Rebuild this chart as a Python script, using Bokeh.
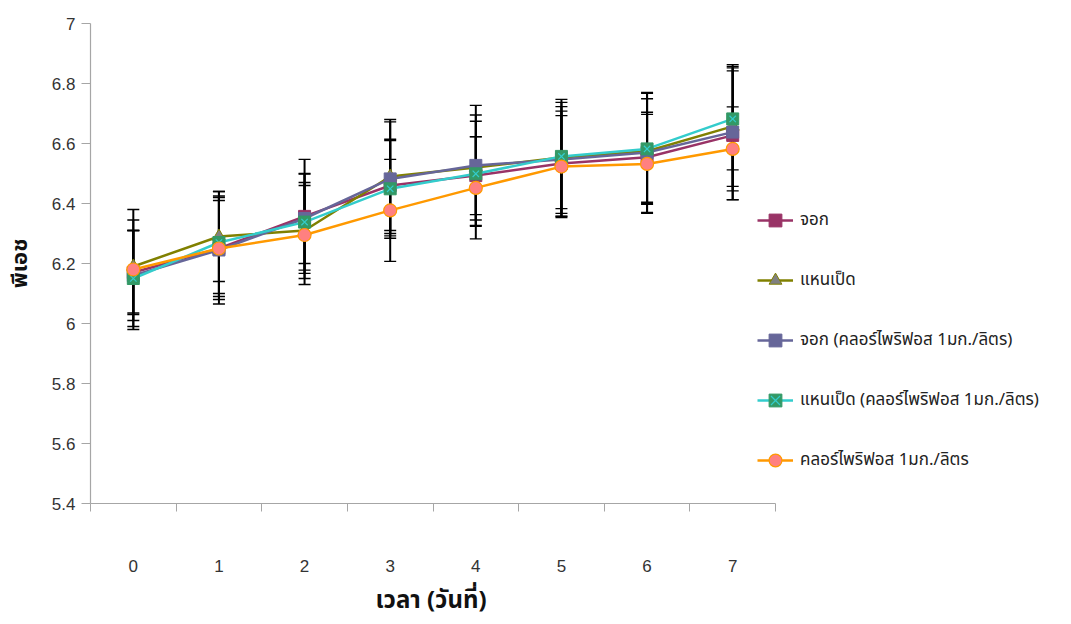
from bokeh.plotting import figure
from bokeh.models import (ColumnDataSource, Range1d, FixedTicker, Whisker, TeeHead,
                          Legend, LegendItem, Title)
from bokeh.embed import file_html
from bokeh.resources import INLINE

days = [0, 1, 2, 3, 4, 5, 6, 7]
day_labels = ["0", "1", "2", "3", "4", "5", "6", "7"]

names = ["จอก", "แหนเป็ด", "จอก (คลอร์ไพริฟอส 1มก./ลิตร)",
         "แหนเป็ด (คลอร์ไพริฟอส 1มก./ลิตร)", "คลอร์ไพริฟอส 1มก./ลิตร"]

jok = [6.17, 6.25, 6.357, 6.46, 6.493, 6.533, 6.554, 6.627]
jok_err = [0.14, 0.16, 0.19, 0.15, 0.13, 0.175, 0.15, 0.215]

haen = [6.19, 6.29, 6.31, 6.49, 6.52, 6.553, 6.574, 6.657]
haen_err = [0.155, 0.15, 0.16, 0.19, 0.175, 0.17, 0.175, 0.2]

jok_c = [6.16, 6.245, 6.35, 6.482, 6.527, 6.547, 6.57, 6.638]
jok_c_err = [0.15, 0.18, 0.15, 0.19, 0.2, 0.19, 0.2, 0.225]

haen_c = [6.15, 6.27, 6.338, 6.449, 6.499, 6.557, 6.582, 6.682]
haen_c_err = [0.16, 0.17, 0.16, 0.165, 0.175, 0.19, 0.185, 0.17]

chlor = [6.18, 6.25, 6.295, 6.377, 6.452, 6.523, 6.532, 6.582]
chlor_err = [0.2, 0.17, 0.165, 0.17, 0.17, 0.17, 0.165, 0.14]

y_ticks = [5.4, 5.6, 5.8, 6.0, 6.2, 6.4, 6.6, 6.8, 7.0]
y_tick_labels = ["5.4", "5.6", "5.8", "6", "6.2", "6.4", "6.6", "6.8", "7"]

x_title = "เวลา (วันที่)"
y_title = "พีเอช"

THAI = "Noto Sans Thai, Noto Sans, Liberation Sans, sans-serif"

W, H = 1063, 624
LEFT, TOP, AXIS_RIGHT, BOTTOM = 90, 23, 775, 503
px_per_day = (AXIS_RIGHT - LEFT) / 8.0
x_end = -0.5 + (W - LEFT) / px_per_day

p = figure(width=W, height=H, output_backend="svg", toolbar_location=None,
           x_range=Range1d(-0.5, x_end), y_range=Range1d(5.4, 7.0),
           min_border_left=LEFT, min_border_right=0, min_border_top=TOP,
           min_border_bottom=H - BOTTOM)
p.outline_line_color = None
p.xgrid.visible = False
p.ygrid.visible = False
p.background_fill_color = "white"

# axes
p.xaxis.bounds = (-0.5, 7.5)
p.xaxis.ticker = FixedTicker(ticks=days, minor_ticks=[d - 0.5 for d in days] + [7.5])
p.xaxis.major_label_overrides = {d: l for d, l in zip(days, day_labels)}
p.xaxis.major_tick_in = 0
p.xaxis.major_tick_out = 0
p.xaxis.minor_tick_in = 0
p.xaxis.minor_tick_out = 8
p.xaxis.major_label_standoff = 48

p.yaxis.ticker = FixedTicker(ticks=y_ticks)
p.yaxis.major_label_overrides = {t: l for t, l in zip(y_ticks, y_tick_labels)}
p.yaxis.major_tick_in = 0
p.yaxis.major_tick_out = 9
p.yaxis.minor_tick_out = 0
p.yaxis.minor_tick_in = 0
p.yaxis.major_label_standoff = 6
p.yaxis.axis_label = y_title
p.yaxis.axis_label_text_font = THAI
p.yaxis.axis_label_text_font_style = "bold"
p.yaxis.axis_label_text_font_size = "22px"
p.yaxis.axis_label_standoff = 12

for ax in (p.xaxis, p.yaxis):
    ax.axis_line_color = "#a6a6a6"
    ax.axis_line_width = 1.2
    ax.major_tick_line_color = "#a6a6a6"
    ax.minor_tick_line_color = "#a6a6a6"
    ax.major_label_text_font = "Liberation Sans"
    ax.major_label_text_font_size = "17px"
    ax.major_label_text_color = "#333333"
    ax.axis_label_text_color = "#111111"

# x-axis title placed under the centre of the axis (frame is wider than axis)
t = Title(text=x_title, align="left", offset=285,
          text_font=THAI, text_font_style="bold", text_font_size="24px",
          text_color="#111111", standoff=12)
p.add_layout(t, "below")

series = [
    (jok, jok_err), (haen, haen_err), (jok_c, jok_c_err),
    (haen_c, haen_c_err), (chlor, chlor_err),
]

# error bars
for vals, errs in series:
    src = ColumnDataSource(dict(x=days,
                                upper=[v + e for v, e in zip(vals, errs)],
                                lower=[v - e for v, e in zip(vals, errs)]))
    w = Whisker(base="x", upper="upper", lower="lower", source=src,
                line_color="black", line_width=2,
                upper_head=TeeHead(size=12, line_color="black", line_width=1.4),
                lower_head=TeeHead(size=12, line_color="black", line_width=1.4))
    p.add_layout(w)

items = []

s = ColumnDataSource(dict(x=days, y=jok))
r1 = p.line("x", "y", source=s, line_color="#993366", line_width=2.5)
m1 = p.scatter("x", "y", source=s, marker="square", size=12,
               fill_color="#993366", line_color="#993366")
items.append(LegendItem(label=names[0], renderers=[r1, m1]))

s = ColumnDataSource(dict(x=days, y=haen))
r2 = p.line("x", "y", source=s, line_color="#808000", line_width=2.5)
m2 = p.scatter("x", "y", source=s, marker="triangle", size=13,
               fill_color="#808080", line_color="#808000")
items.append(LegendItem(label=names[1], renderers=[r2, m2]))

s = ColumnDataSource(dict(x=days, y=jok_c))
r3 = p.line("x", "y", source=s, line_color="#666699", line_width=2.5)
m3 = p.scatter("x", "y", source=s, marker="square", size=12,
               fill_color="#666699", line_color="#666699")
items.append(LegendItem(label=names[2], renderers=[r3, m3]))

s = ColumnDataSource(dict(x=days, y=haen_c))
r4 = p.line("x", "y", source=s, line_color="#33CCCC", line_width=2.5)
m4 = p.scatter("x", "y", source=s, marker="square", size=12,
               fill_color="#339966", line_color="#339966")
m4x = p.scatter("x", "y", source=s, marker="x", size=9,
                line_color="#33CCCC", line_width=1.2)
items.append(LegendItem(label=names[3], renderers=[r4, m4, m4x]))

s = ColumnDataSource(dict(x=days, y=chlor))
r5 = p.line("x", "y", source=s, line_color="#FF9900", line_width=2.5)
m5 = p.scatter("x", "y", source=s, marker="circle", size=13,
               fill_color="#FF8080", line_color="#FF9900", line_width=1.2)
items.append(LegendItem(label=names[4], renderers=[r5, m5]))

legend = Legend(items=items, location=(657, 17), margin=0, padding=10,
                spacing=28, glyph_width=36, glyph_height=32, label_height=20,
                label_standoff=7, label_text_font=THAI,
                label_text_font_size="17px", label_text_color="#222222",
                border_line_alpha=0, background_fill_alpha=0)
p.add_layout(legend)

open("out.html", "w").write(file_html(p, INLINE))
